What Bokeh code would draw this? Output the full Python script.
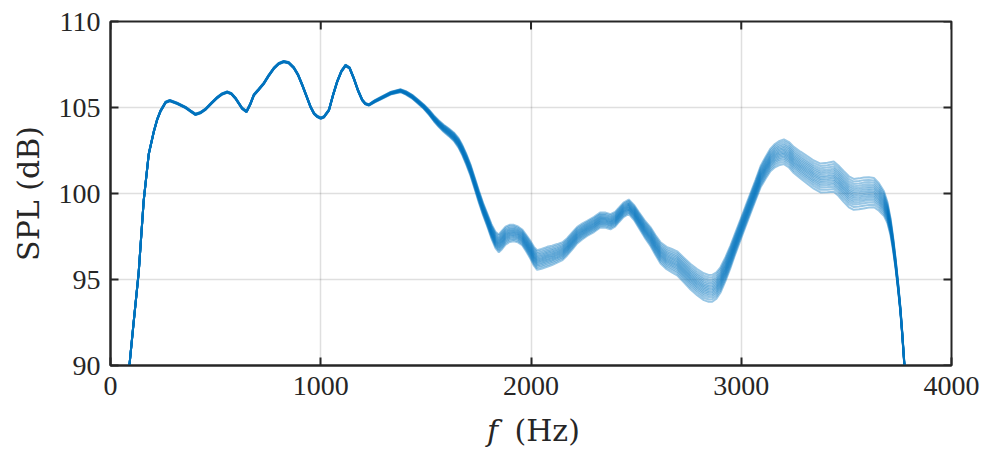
import numpy as np
from bokeh.plotting import figure
from bokeh.models import FixedTicker, Range1d, Label
from bokeh.embed import file_html
from bokeh.resources import INLINE

# Frequency (Hz), mean SPL (dB) and half-width of the bundle (dB)
freq = [80, 90, 110, 134, 158, 182, 206, 222, 238, 262, 282, 317, 357, 380, 404, 428,
        452, 480, 507, 530, 555, 575, 595, 626, 647, 665, 682, 705, 729, 752, 777, 800,
        824, 848, 872, 892, 912, 931, 951, 968, 983, 1000, 1015, 1039, 1058, 1078, 1098,
        1118, 1137, 1157, 1177, 1197, 1212, 1229, 1255, 1284, 1332, 1379, 1405, 1435,
        1462, 1490, 1515, 1538, 1562, 1585, 1610, 1633, 1655, 1673, 1692, 1712, 1732,
        1752, 1772, 1792, 1812, 1831, 1847, 1862, 1879, 1898, 1918, 1938, 1958, 1978,
        1998, 2014, 2029, 2050, 2077, 2100, 2125, 2150, 2172, 2197, 2220, 2245, 2267,
        2300, 2330, 2355, 2378, 2400, 2418, 2440, 2465, 2490, 2513, 2540, 2568, 2592,
        2616, 2645, 2670, 2695, 2727, 2759, 2790, 2822, 2845, 2862, 2882, 2901, 2925,
        2949, 2972, 2996, 3020, 3044, 3068, 3092, 3116, 3139, 3160, 3179, 3203, 3227,
        3250, 3282, 3314, 3345, 3377, 3410, 3440, 3462, 3488, 3512, 3535, 3560, 3583,
        3607, 3631, 3655, 3678, 3695, 3710, 3722, 3734, 3746, 3757, 3766, 3775, 3790]
spl_mean = [88.5, 90.0, 92.5, 95.4, 99.6, 102.3, 103.6, 104.3, 104.8, 105.3, 105.4,
            105.24, 105.0, 104.8, 104.6, 104.7, 104.9, 105.25, 105.57, 105.78, 105.9,
            105.8, 105.53, 104.95, 104.76, 105.2, 105.73, 106.05, 106.4, 106.85, 107.28,
            107.55, 107.67, 107.6, 107.31, 106.9, 106.31, 105.7, 105.05, 104.65, 104.48,
            104.38, 104.45, 104.85, 105.7, 106.5, 107.1, 107.45, 107.3, 106.7, 106.0,
            105.44, 105.22, 105.15, 105.35, 105.53, 105.83, 105.98, 105.85, 105.63,
            105.35, 105.05, 104.72, 104.37, 104.05, 103.79, 103.55, 103.3, 102.95,
            102.53, 102.0, 101.37, 100.6, 99.82, 99.1, 98.46, 97.8, 97.3, 97.1, 97.3,
            97.55, 97.68, 97.7, 97.62, 97.45, 97.1, 96.71, 96.35, 96.13, 96.2, 96.32,
            96.4, 96.52, 96.65, 96.9, 97.25, 97.58, 97.8, 97.97, 98.2, 98.46, 98.45,
            98.36, 98.5, 98.75, 99.05, 99.23, 98.9, 98.46, 97.95, 97.5, 97.0, 96.55,
            96.25, 96.1, 95.94, 95.55, 95.16, 94.85, 94.58, 94.48, 94.49, 94.65, 94.97,
            95.6, 96.33, 97.1, 97.88, 98.66, 99.43, 100.2, 100.98, 101.5, 101.95, 102.2,
            102.34, 102.43, 102.25, 101.95, 101.65, 101.37, 101.1, 100.9, 100.93, 100.98,
            100.75, 100.4, 100.1, 99.95, 99.98, 100.03, 100.06, 100.05, 99.8, 99.43,
            98.9, 98.07, 97.1, 95.94, 94.6, 93.23, 91.8, 90.2, 88.0]
spl_spread = [0.04] * 54 + [
    0.06, 0.07, 0.08, 0.09, 0.1, 0.11, 0.12, 0.13, 0.15, 0.17, 0.19, 0.21, 0.23, 0.25,
    0.28, 0.3, 0.32, 0.33, 0.34, 0.35, 0.36, 0.38, 0.42, 0.48, 0.52, 0.54, 0.52, 0.5,
    0.48, 0.46, 0.46, 0.48, 0.52, 0.55, 0.57, 0.58, 0.58, 0.56, 0.54, 0.52, 0.5, 0.5,
    0.48, 0.46, 0.44, 0.44, 0.44, 0.44, 0.44, 0.43, 0.42, 0.42, 0.42, 0.44, 0.46, 0.5,
    0.55, 0.58, 0.62, 0.65, 0.68, 0.7, 0.72, 0.74, 0.76, 0.78, 0.78, 0.78, 0.76, 0.74,
    0.7, 0.66, 0.62, 0.6, 0.6, 0.6, 0.6, 0.62, 0.64, 0.66, 0.68, 0.7, 0.72, 0.74, 0.76,
    0.78, 0.8, 0.82, 0.84, 0.86, 0.88, 0.88, 0.9, 0.9, 0.9, 0.9, 0.9, 0.88, 0.85, 0.8,
    0.72, 0.62, 0.5, 0.4, 0.3, 0.22, 0.16, 0.12, 0.1, 0.1]
# Relative position of each run inside the bundle
run_offsets = [-1.0, -0.82, -0.66, -0.52, -0.4, -0.28, -0.17, -0.06, 0.05, 0.16,
               0.28, 0.4, 0.53, 0.67, 0.83, 1.0]

x_ticks = [0, 1000, 2000, 3000, 4000]
y_ticks = [90, 95, 100, 105, 110]
x_lim = (0, 4000)
y_lim = (90, 110)

FONT = "Liberation Serif"
LFONT = "DejaVu Serif"
DARK = "#262626"
BLUE = "#0072BD"

W, H = 981, 450
BL, BR, BT, BB = 110, 30, 21, 85
p = figure(width=W, height=H, x_range=Range1d(*x_lim), y_range=Range1d(*y_lim),
           output_backend="svg", toolbar_location=None,
           min_border_left=BL, min_border_right=BR, min_border_top=BT,
           min_border_bottom=BB, background_fill_color="white",
           border_fill_color="white")
p.outline_line_color = DARK
p.outline_line_width = 2

fa = np.array(freq, dtype=float)
ma = np.array(spl_mean, dtype=float)
sa = np.array(spl_spread, dtype=float)
for k in run_offsets:
    p.line(fa, ma + k * sa, line_color=BLUE, line_alpha=0.4, line_width=2.0)

for ax, ticks in ((p.xaxis[0], x_ticks), (p.yaxis[0], y_ticks)):
    ax.ticker = FixedTicker(ticks=ticks)
    ax.axis_line_color = DARK
    ax.axis_line_width = 2
    ax.major_tick_line_color = DARK
    ax.major_tick_line_width = 2
    ax.major_tick_in = 8
    ax.major_tick_out = 0
    ax.minor_tick_line_color = None
    ax.major_label_text_font = FONT
    ax.major_label_text_color = DARK
    ax.major_label_text_font_size = "28px"
p.xaxis[0].major_label_standoff = 11
p.yaxis[0].major_label_standoff = 10

p.yaxis[0].axis_label = "SPL (dB)"
p.yaxis[0].axis_label_text_font = LFONT
p.yaxis[0].axis_label_text_font_style = "normal"
p.yaxis[0].axis_label_text_font_size = "30px"
p.yaxis[0].axis_label_text_color = DARK
p.yaxis[0].axis_label_standoff = 10

# inner ticks on the top and right sides of the box (8 px long)
px_per_y = (H - BT - BB) / (y_lim[1] - y_lim[0])
px_per_x = (W - BL - BR) / (x_lim[1] - x_lim[0])
p.segment(x0=x_ticks, y0=[y_lim[1]] * len(x_ticks), x1=x_ticks,
          y1=[y_lim[1] - 8 / px_per_y] * len(x_ticks), line_color=DARK, line_width=2)
p.segment(x0=[x_lim[1]] * len(y_ticks), y0=y_ticks, x1=[x_lim[1] - 8 / px_per_x] * len(y_ticks),
          y1=y_ticks, line_color=DARK, line_width=2)

for g, t in ((p.xgrid[0], x_ticks), (p.ygrid[0], y_ticks)):
    g.ticker = FixedTicker(ticks=t)
    g.grid_line_color = DARK
    g.grid_line_alpha = 0.15
    g.grid_line_width = 1.5

# x-axis title: italic f followed by upright (Hz); each sits in a side panel so it is
# not clipped to the frame (positions are still given in data units)
label_y = y_lim[0] - (430 - (H - BB)) / px_per_y
f_x = (492 - BL) / px_per_x
hz_x = (514 - BL) / px_per_x
p.add_layout(Label(x=f_x, y=label_y, text="f", text_font=LFONT, text_font_style="italic",
                   text_font_size="30px", text_color=DARK, text_align="center",
                   text_baseline="alphabetic"), "right")
p.add_layout(Label(x=hz_x, y=label_y, text="(Hz)", text_font=LFONT,
                   text_font_style="normal", text_font_size="30px", text_color=DARK,
                   text_align="left", text_baseline="alphabetic"), "below")

open("out.html", "w").write(file_html(p, INLINE))
